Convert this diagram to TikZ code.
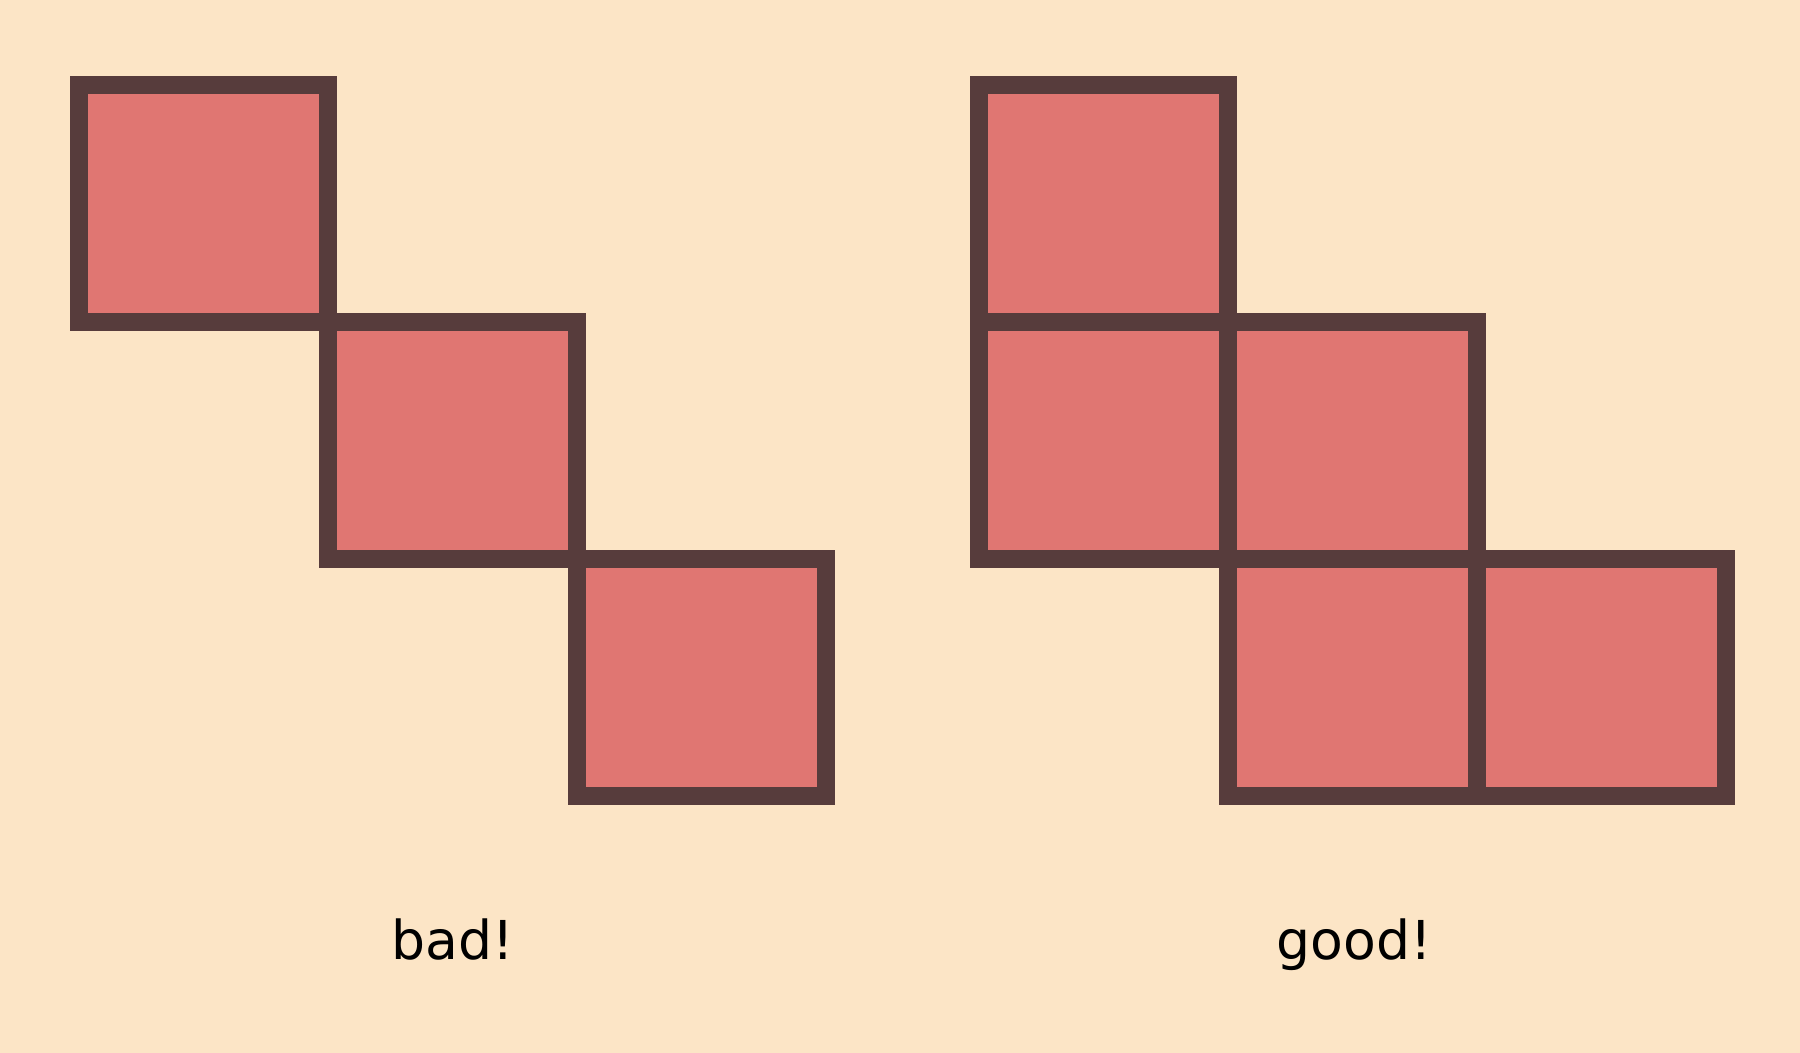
\documentclass[tikz,border=0pt]{standalone}
\usepackage{fontspec}
\setmainfont{DejaVu Sans}
\definecolor{bgc}{HTML}{FCE5C6}
\definecolor{cellfill}{HTML}{E07672}
\definecolor{celledge}{HTML}{573C3C}
\begin{document}
\begin{tikzpicture}[x=0.5pt,y=-0.5pt,
  cell/.style={fill=cellfill,draw=celledge,line width=9pt,line join=miter},
  lbl/.style={anchor=base,inner sep=0pt,font=\fontsize{26.8}{32}\selectfont,text=black}]
\fill[bgc] (0,0) rectangle (1800,1053);
\useasboundingbox (0,0) rectangle (1800,1053);
\def\W{249}\def\H{237}
% bad
\foreach \i/\j in {0/0,1/1,2/2}
  \draw[cell] (79+\i*\W,85+\j*\H) rectangle ++(\W,\H);
% good
\foreach \i/\j in {0/0,0/1,1/1,1/2,2/2}
  \draw[cell] (978.5+\i*\W,85+\j*\H) rectangle ++(\W,\H);
\node[lbl] (bad) at (453,959) {bad!};
\node[lbl] (good) at (1354,959) {good!};
\end{tikzpicture}
\end{document}
